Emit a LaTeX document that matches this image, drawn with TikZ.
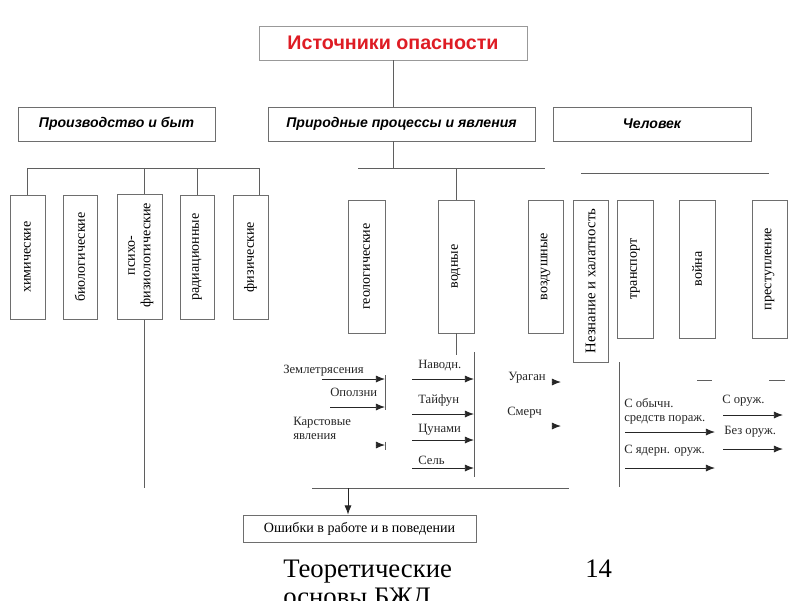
\documentclass[tikz,border=0pt]{standalone}
\usepackage{fontspec}
\setmainfont{Liberation Serif}
\setsansfont{Liberation Sans}
\usetikzlibrary{calc,arrows.meta}
\definecolor{srcred}{RGB}{222,28,36}
\definecolor{linegray}{RGB}{95,95,95}
\definecolor{boxgray}{RGB}{110,110,110}

\begin{document}
\begin{tikzpicture}[->,>={Latex[length=6.5pt,width=5pt]}, x=0.025cm, y=-0.025cm,
	wire/.style={-, draw=linegray, line width=0.6pt},
	arr/.style={->, draw=black!85, line width=0.6pt},
	hbox/.style={draw=boxgray, line width=0.6pt, inner sep=0pt, minimum height=0.85cm,
		font=\sffamily\bfseries\itshape\fontsize{10}{12}\selectfont},
	vbox/.style={draw=boxgray, line width=0.6pt, inner sep=0pt,
		font=\fontsize{10}{11}\selectfont},
	lbl/.style={anchor=west, inner sep=0pt, text=black!85, font=\fontsize{9}{10}\selectfont}]

	\useasboundingbox (0,0) rectangle (800,600);

	% source
	\node[hbox, draw=black!40, minimum width=6.7cm, text=srcred,
		font=\sffamily\bfseries\fontsize{14}{16}\selectfont, shift = {(393, 43)}] (src) {Источники опасности};

	% groups
	\node[hbox, minimum width=4.925cm, shift = {(116.5, 124)}] (prod) {Производство и быт};
	\node[hbox, minimum width=6.675cm, shift = {(401.5, 124)}] (nat) {Природные процессы и явления};
	\node[hbox, minimum width=4.95cm, shift = {(652, 124)}] (man) {Человек};

	% production
	\node[vbox, minimum width=0.875cm, minimum height=3.1cm, shift = {(27.5, 257)}] (chem) {\rotatebox{90}{химические}};
	\node[vbox, minimum width=0.85cm, minimum height=3.1cm, shift = {(80, 257)}] (bio) {\rotatebox{90}{биологические}};
	\node[vbox, minimum width=1.125cm, minimum height=3.1cm, shift = {(139.5, 257)}] (psy) {\rotatebox{90}{
		\begin{tabular}{c}
			психо-\\
			физиологические
		\end{tabular}}};
	\node[vbox, minimum width=0.85cm, minimum height=3.1cm, shift = {(197, 257)}] (rad) {\rotatebox{90}{радиационные}};
	\node[vbox, minimum width=0.875cm, minimum height=3.1cm, shift = {(250.5, 257)}] (phys) {\rotatebox{90}{физические}};

	% nature
	\node[vbox, minimum width=0.925cm, minimum height=3.325cm, shift = {(366.5, 266.5)}] (geo) {\rotatebox{90}{геологические}};
	\node[vbox, minimum width=0.9cm, minimum height=3.325cm, shift = {(456, 266.5)}] (water) {\rotatebox{90}{водные}};
	\node[vbox, minimum width=0.875cm, minimum height=3.325cm, shift = {(545.5, 266.5)}] (air) {\rotatebox{90}{воздушные}};

	% human
	\node[vbox, minimum width=0.875cm, minimum height=4.05cm, font=\fontsize{10.5}{12}\selectfont,
		shift = {(590.5, 281)}] (ign) {\rotatebox{90}{Незнание и халатность}};
	\node[vbox, minimum width=0.9cm, minimum height=3.45cm, shift = {(635, 269)}] (trans) {\rotatebox{90}{транспорт}};
	\node[vbox, minimum width=0.9cm, minimum height=3.45cm, shift = {(697, 269)}] (war) {\rotatebox{90}{война}};
	\node[vbox, minimum width=0.875cm, minimum height=3.45cm, shift = {(769.5, 269)}] (crime) {\rotatebox{90}{преступление}};

	% result
	\node[vbox, minimum width=5.825cm, minimum height=0.675cm, shift = {(359.5, 528.5)}] (err) {Ошибки в работе и в поведении};

	% buses
	\coordinate (lbus_l) at (27.5, 168);
	\coordinate (lbus_r) at (259, 168);
	\coordinate (mbus_l) at (358, 168);
	\coordinate (mbus_r) at (545, 168);
	\coordinate (rbus_l) at (581, 173);
	\coordinate (rbus_r) at (769, 173);
	\coordinate (bbus_l) at (312, 488);
	\coordinate (bbus_r) at (569, 488);
	\coordinate (psy_top) at ($(psy.north)+(4.5, 0)$);
	\coordinate (psy_bot) at ($(psy.south)+(4.5, 0)$);
	\coordinate (geo_line) at (385, 375);
	\coordinate (water_line) at (474, 352);
	\coordinate (man_line) at (619, 362);
	\coordinate (err_in) at (348, 488);

	\draw[wire] (src.south) -- (src.south |- nat.north);
	\draw[wire] (chem.north) -- (lbus_l) -- (lbus_r) -- (lbus_r |- phys.north);
	\draw[wire] (psy_top |- lbus_l) -- (psy_top);
	\draw[wire] (rad.north |- lbus_l) -- (rad.north);
	\draw[wire] (psy_bot) -- ++(0, 168);

	\draw[wire] (src.south |- nat.south) -- (src.south |- mbus_l);
	\draw[wire] (mbus_l) -- (mbus_r);
	\draw[wire] (water.north |- mbus_l) -- (water.north);
	\draw[wire] (rbus_l) -- (rbus_r);

	\draw[wire] (water.south) -- ++(0, 22);
	\draw[wire] (geo_line) -- ++(0, 35);
	\draw[wire] (water_line) -- ++(0, 125);
	\draw[wire] (man_line) -- ++(0, 125);
	\draw[wire] (bbus_l) -- (bbus_r);
	\draw[arr] (err_in) -- (err_in |- err.north);

	% geological
	\node[lbl] (quake) at (283, 371) {Землетрясения};
	\node[lbl] (slide) at (330, 392) {Оползни};
	\node[lbl] (karst) at (293, 429.5) {\begin{tabular}{@{}l@{}}
			Карстовые\\
			явления
		\end{tabular}};
	\draw[arr] (quake.west) ++(39, 8) -- ++(63, 0);
	\draw[arr] (slide.west) ++(0, 15) -- ++(55, 0);
	\draw[arr] (karst.west) ++(83, 15.5) -- ++(9, 0);
	\draw[wire] (karst.west) ++(92, 12) -- ++(0, 8);

	% water
	\node[lbl] (flood) at (418, 366) {Наводн.};
	\node[lbl] (typh) at (418, 400) {Тайфун};
	\node[lbl] (tsun) at (418, 430) {Цунами};
	\node[lbl] (mud) at (418, 460) {Сель};
	\draw[arr] (flood.west) ++(-6, 13) -- ++(62, 0);
	\draw[arr] (typh.west) ++(-6, 14) -- ++(62, 0);
	\draw[arr] (tsun.west) ++(-6, 10) -- ++(62, 0);
	\draw[arr] (mud.west) ++(-6, 8) -- ++(62, 0);

	% air
	\node[lbl] (hurr) at (508, 378) {Ураган};
	\node[lbl] (torn) at (507, 413) {Смерч};
	\draw[arr] (hurr.west) ++(44, 4) -- ++(9, 0);
	\draw[arr] (torn.west) ++(45, 13) -- ++(9, 0);

	% war
	\node[lbl] (conv) at (624, 411.5) {\begin{tabular}{@{}l@{}}
			С обычн.\\
			средств пораж.
		\end{tabular}};
	\node[lbl] (nuke) at (624, 451) {С ядерн. оруж.};
	\node[lbl] (armed) at (722, 401) {С оруж.};
	\node[lbl] (unarmed) at (724, 432) {Без оруж.};
	\draw[arr] (conv.west) ++(1, 20.5) -- ++(90, 0);
	\draw[arr] (nuke.west) ++(1, 17) -- ++(90, 0);
	\draw[arr] (armed.west) ++(1, 14) -- ++(60, 0);
	\draw[arr] (unarmed.west) ++(-1, 17) -- ++(60, 0);
	\draw[wire] (armed.west) ++(-25, -21) -- ++(15, 0);
	\draw[wire] (armed.west) ++(47, -21) -- ++(16, 0);

	% footer
	\node[anchor=base west, inner sep=0pt, font=\fontsize{19}{20}\selectfont] (foot) at (283, 577) {\begin{tabular}[t]{@{}l@{}}
			Теоретические\\
			основы БЖД
		\end{tabular}};
	\node[anchor=base west, inner sep=0pt, font=\fontsize{19}{20}\selectfont] (page) at (585, 577) {14};
\end{tikzpicture}
\end{document}
